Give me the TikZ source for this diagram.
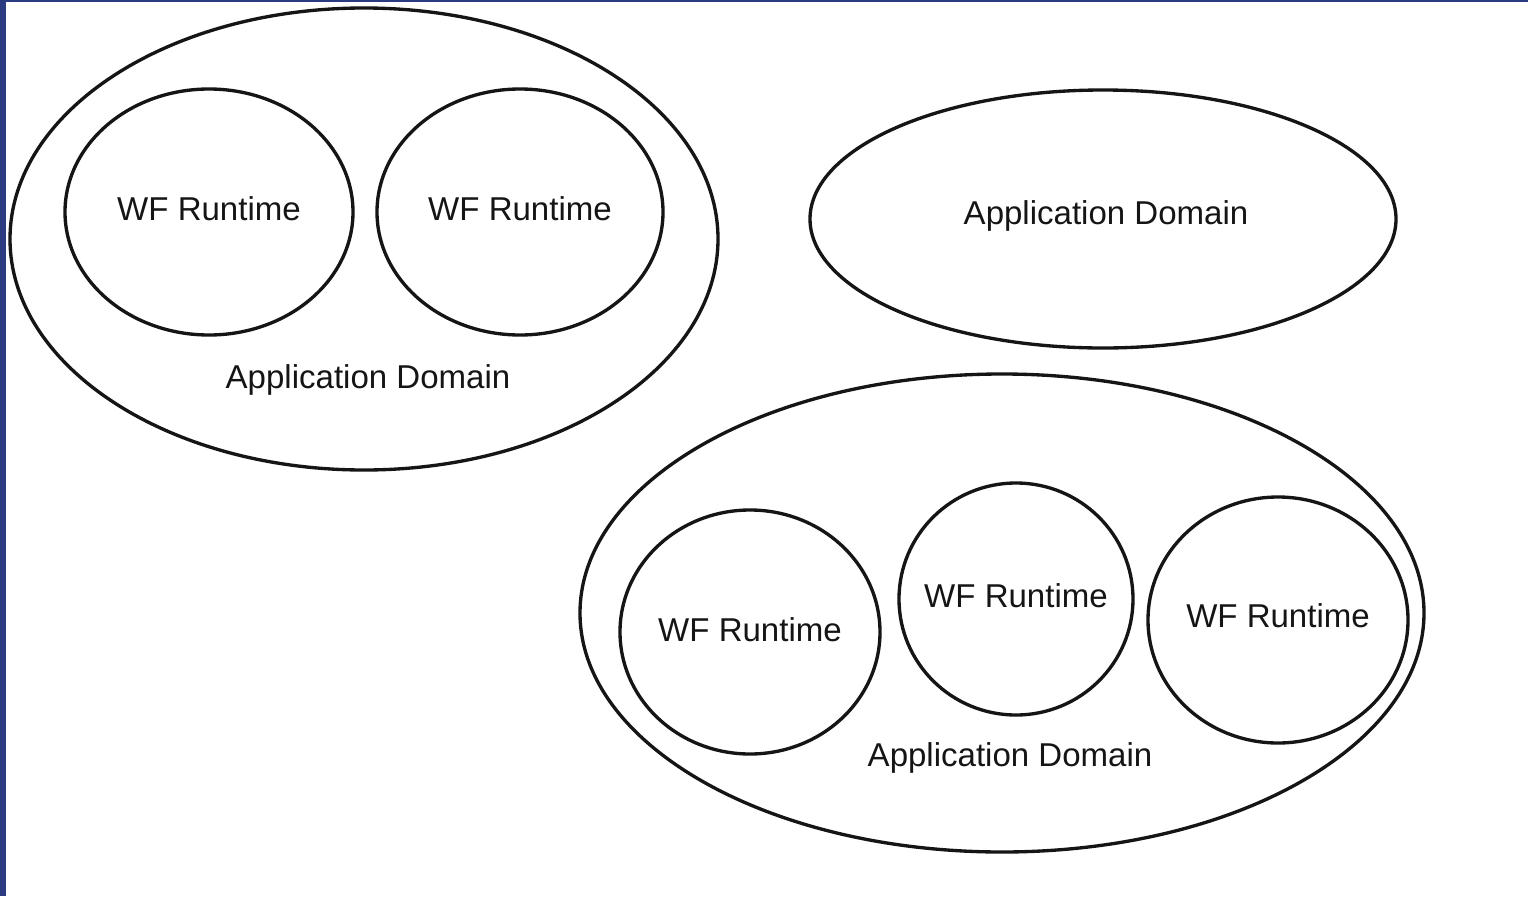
\documentclass[tikz,border=0pt]{standalone}
\usepackage{fontspec}
\setmainfont{Liberation Sans}
\definecolor{frameblue}{HTML}{2B3B80}
\definecolor{linegray}{HTML}{151515}
\begin{document}
\begin{tikzpicture}[x=0.02cm,y=-0.02cm,
  shp/.style={draw=linegray,line width=1.9pt,fill=none},
  lbl/.style={font=\fontsize{18.8pt}{22pt}\selectfont,text=linegray,inner sep=0pt}]
\useasboundingbox (0,0) rectangle (1528,896);
\fill[white] (0,0) rectangle (1528,896);
\fill[frameblue] (0,0) rectangle (6,896);
\fill[frameblue] (0,0) rectangle (1528,2);
% top-left group
\draw[shp] (364,239) ellipse [x radius=354, y radius=231];
\draw[shp] (209,212) ellipse [x radius=144, y radius=123];
\draw[shp] (520,212) ellipse [x radius=143, y radius=123];
\node[lbl] (wf1) at (209,209) {WF Runtime};
\node[lbl] (wf2) at (520,209) {WF Runtime};
\node[lbl] (adl1) at (368,380) {Application Domain};
% right single domain
\draw[shp] (1103,219) ellipse [x radius=293, y radius=129];
\node[lbl] (adl2) at (1106,216) {Application Domain};
% bottom group
\draw[shp] (1002,613) ellipse [x radius=422, y radius=239];
\draw[shp] (750,632) ellipse [x radius=130, y radius=122];
\draw[shp] (1016,599) ellipse [x radius=117, y radius=116];
\draw[shp] (1278,620) ellipse [x radius=130, y radius=123];
\node[lbl] (wf3) at (750,630) {WF Runtime};
\node[lbl] (wf4) at (1016,596) {WF Runtime};
\node[lbl] (wf5) at (1278,616) {WF Runtime};
\node[lbl] (adl3) at (1010,758) {Application Domain};
\end{tikzpicture}
\end{document}
